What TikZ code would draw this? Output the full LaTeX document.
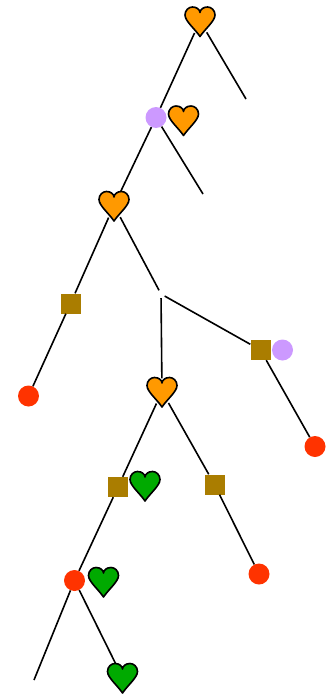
\documentclass[tikz,border=0pt]{standalone}
\definecolor{horange}{HTML}{FF9900}
\definecolor{hgreen}{HTML}{00AA00}
\definecolor{hpurple}{HTML}{CC99FF}
\definecolor{hred}{HTML}{FF3300}
\definecolor{hbrown}{HTML}{AA7D00}
\tikzset{
  edgeline/.style={line width=1.6pt},
  heartspot/.style={circle, minimum size=26pt, inner sep=0pt},
  dotnode/.style={circle, fill=#1, minimum size=21pt, inner sep=0pt},
  boxnode/.style={rectangle, fill=hbrown, minimum size=20pt, inner sep=0pt},
  blanknode/.style={circle, minimum size=8pt, inner sep=0pt},
  pics/heart/.style={code={
    \draw[line width=1.6pt, line join=round, fill=#1]
      (0,15.5) .. controls (-5,8) and (-15,0) .. (-15,-6)
      .. controls (-15,-11) and (-11,-14) .. (-7.5,-14)
      .. controls (-3.5,-14) and (0,-11.5) .. (0,-8.5)
      .. controls (0,-11.5) and (3.5,-14) .. (7.5,-14)
      .. controls (11,-14) and (15,-11) .. (15,-6)
      .. controls (15,0) and (5,8) .. (0,15.5) -- cycle;
  }}
}
\begin{document}
\begin{tikzpicture}[x=1pt,y=-1pt]
\useasboundingbox (0,0) rectangle (332,696);
% hearts (anchors)
\node[heartspot] (h1) at (200,21) {};
\node[heartspot] (h2) at (183.5,120) {};
\node[heartspot] (h3) at (114,205.5) {};
\node[heartspot] (h4) at (162,391.5) {};
\node[heartspot] (g1) at (145,485.5) {};
\node[heartspot] (g2) at (103.5,581.5) {};
\node[heartspot] (g3) at (122.5,677.5) {};
% circles
\node[dotnode=hpurple] (p1) at (156,117.5) {};
\node[dotnode=hpurple] (p2) at (282.5,350) {};
\node[dotnode=hred] (r1) at (28.5,396) {};
\node[dotnode=hred] (r2) at (315,446.5) {};
\node[dotnode=hred] (r3) at (259,574) {};
\node[dotnode=hred] (r4) at (74.5,580.5) {};
% squares
\node[boxnode] (s1) at (70.5,303.5) {};
\node[boxnode] (s2) at (260.5,350) {};
\node[boxnode] (s3) at (118,487) {};
\node[boxnode] (s4) at (214.5,484.5) {};
% blank
\node[blanknode] (b1) at (161,294) {};
% free ends
\coordinate (f1) at (246,99);
\coordinate (f2) at (203,194);
\coordinate (f3) at (34,680);
% edges
\draw[edgeline] (h1) -- (f1);
\draw[edgeline] (h1) -- (p1);
\draw[edgeline] (p1) -- (h3);
\draw[edgeline] (p1) -- (f2);
\draw[edgeline] (h3) -- (s1);
\draw[edgeline] (h3) -- (b1);
\draw[edgeline] (s1) -- (r1);
\draw[edgeline] (b1) -- (h4);
\draw[edgeline] (b1) -- (s2);
\draw[edgeline] (s2) -- (r2);
\draw[edgeline] (h4) -- (s3);
\draw[edgeline] (h4) -- (s4);
\draw[edgeline] (s3) -- (r4);
\draw[edgeline] (s4) -- (r3);
\draw[edgeline] (r4) -- (f3);
\draw[edgeline] (r4) -- (g3);
% heart drawings
\pic at (h1) {heart=horange};
\pic at (h2) {heart=horange};
\pic at (h3) {heart=horange};
\pic at (h4) {heart=horange};
\pic at (g1) {heart=hgreen};
\pic at (g2) {heart=hgreen};
\pic at (g3) {heart=hgreen};
\end{tikzpicture}
\end{document}
